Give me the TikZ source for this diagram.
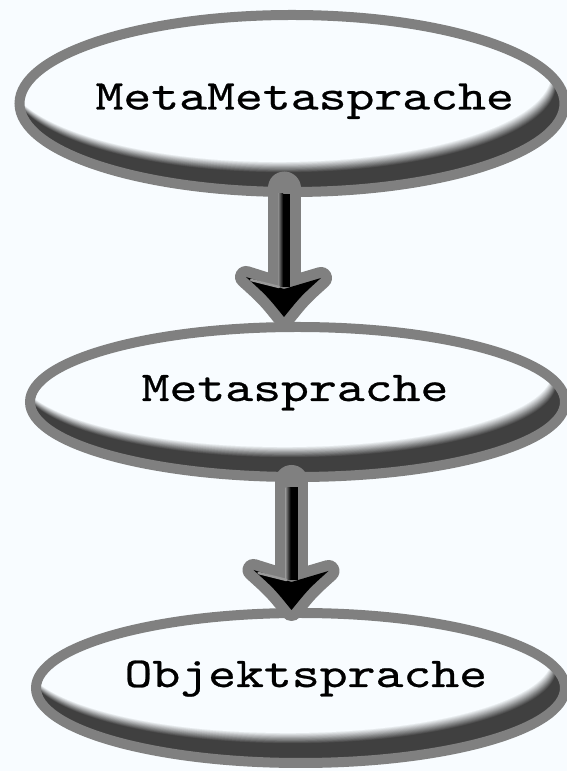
\documentclass[tikz,border=0pt]{standalone}
\usepackage{fontspec}
\newfontfamily\typefont{lmmono10-regular.otf}[FakeStretch=1.25, FakeBold=0.6]
\usetikzlibrary{shapes.geometric,calc}

\definecolor{paper}{RGB}{248,252,255}
\definecolor{rim}{RGB}{128,128,128}
\definecolor{shadowc}{RGB}{64,64,64}

\tikzset{
  % ellipse with a thick grey rim and a dark crescent along its lower right
  bubble/.style n args={2}{
    ellipse, inner sep=0pt, outer sep=5pt,
    minimum width=#1, minimum height=#2,
    draw=rim, line width=10pt,
    path picture={
      \fill[shadowc] (path picture bounding box.south west)
        rectangle (path picture bounding box.north east);
      \foreach \k in {0,...,14}{
        \pgfmathtruncatemacro\bubpct{100*\k/14}
        \pgfmathsetmacro\bubdx{-8-5*\k/14}
        \pgfmathsetmacro\bubdy{19+11*\k/14}
        \fill[paper!\bubpct!shadowc]
          ($(path picture bounding box.center)+(\bubdx pt,\bubdy pt)$)
          ellipse [x radius=#1/2, y radius=#2/2];
      }
    }},
  wordtext/.style={inner sep=0pt, anchor=base, text=black,
    font=\typefont\fontsize{42.5}{42.5}\selectfont},
}

% thick arrow with a grey rim: #1 = start of the shaft, #2 = tip
\newcommand\drawflow[2]{%
  \draw[rim, line width=33pt, line cap=round] (#1) -- ($(#2)+(0,28)$);
  \filldraw[rim, line width=22pt, line join=round]
    (#2) .. controls ($(#2)+(-17,21)$) .. ($(#2)+(-38,40)$)
    -- ($(#2)+(0,28)$) -- ($(#2)+(37,39)$)
    .. controls ($(#2)+(17,21)$) .. (#2) -- cycle;
  \fill[black] ($(#1)+(-6,-6)$) rectangle ($(#2)+(6,30)$);
  \shade[left color=black!45, right color=black]
    ($(#1)+(-6,-6)$) rectangle ($(#2)+(-1,30)$);
  \fill[black]
    (#2) .. controls ($(#2)+(-17,21)$) .. ($(#2)+(-38,40)$)
    -- ($(#2)+(0,28)$) -- ($(#2)+(37,39)$)
    .. controls ($(#2)+(17,21)$) .. (#2) -- cycle;
  \draw[black!40, line width=2.5pt, line cap=round]
    ($(#2)+(-33,37)$) -- ($(#2)+(-5,30)$);
}

\begin{document}
\begin{tikzpicture}[x=1pt,y=1pt]
  \fill[paper] (0,0) rectangle (567,771);
  \useasboundingbox (0,0) rectangle (567,771);

  \node[bubble={545pt}{177pt}] (mm) at (292,667.5) {};
  \node[bubble={535pt}{150pt}] (m)  at (297.5,369) {};
  \node[bubble={529pt}{150pt}] (o)  at (300.5,83) {};

  \node[wordtext] (t1) at (304.7,661.5) {MetaMetasprache};
  \node[wordtext] (t2) at (295,370) {Metasprache};
  \node[wordtext] (t3) at (305.8,84) {Objektsprache};

  \coordinate (s1) at ($(mm.south)+(-8,9)$);
  \coordinate (h1) at ($(m.north)+(-13.5,5)$);
  \coordinate (s2) at ($(m.south)+(-6,0.5)$);
  \coordinate (h2) at ($(o.north)+(-9,-2)$);

  \drawflow{s1}{h1}
  \drawflow{s2}{h2}
\end{tikzpicture}
\end{document}
